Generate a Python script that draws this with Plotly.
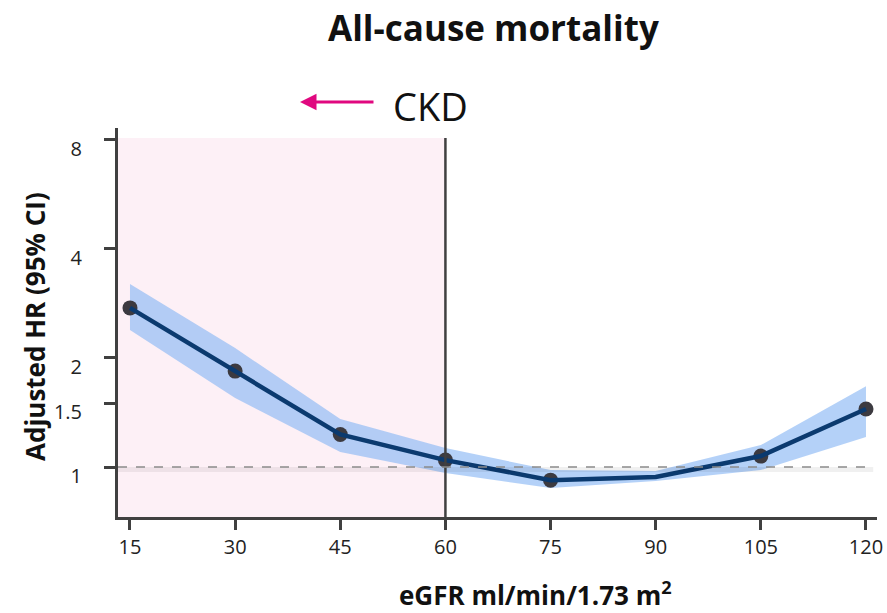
import plotly.graph_objects as go

egfr = [15, 30, 45, 60, 75, 90, 105, 120]
hr = [2.75, 1.84, 1.23, 1.045, 0.92, 0.938, 1.072, 1.446]
ci_upper = [3.20, 2.13, 1.357, 1.128, 0.981, 0.975, 1.15, 1.67]
ci_lower = [2.39, 1.55, 1.10, 0.963, 0.875, 0.915, 0.981, 1.21]
marker_x = [15, 30, 45, 60, 75, 105, 120]
marker_y = [2.75, 1.84, 1.23, 1.045, 0.92, 1.072, 1.446]
xticks = [15, 30, 45, 60, 75, 90, 105, 120]
yticks = [1, 1.5, 2, 4, 8]
ytick_labels = ["1", "1.5", "2", "4", "8"]

FONT = "Open Sans"
PLOT_TOP, PLOT_BOTTOM, PLOT_LEFT, PLOT_RIGHT = 128, 517, 118, 877
PH = PLOT_BOTTOM - PLOT_TOP
PW = PLOT_RIGHT - PLOT_LEFT

fig = go.Figure()

# CKD shaded region
fig.add_shape(type="rect", xref="x", yref="y", x0=13.29, x1=60, y0=0.7, y1=8.1,
              fillcolor="#fdf0f6", line_width=0, layer="below")
fig.add_shape(type="line", xref="x", yref="y", x0=60, x1=60, y0=0.7, y1=8.1,
              line=dict(color="#404040", width=2.5))
# reference line at HR = 1 (shadow + dashed)
fig.add_shape(type="line", xref="paper", yref="y", x0=0, x1=0.995, y0=0.985, y1=0.985,
              line=dict(color="rgba(0,0,0,0.06)", width=5))
fig.add_shape(type="line", xref="paper", yref="y", x0=0, x1=0.995, y0=1, y1=1,
              line=dict(color="#8a8a8a", width=1.3, dash="dash"))

# CI band
fig.add_trace(go.Scatter(x=egfr + egfr[::-1], y=ci_upper + ci_lower[::-1],
                         mode="lines", fill="toself", fillcolor="rgba(140,185,245,0.65)",
                         line=dict(width=0), hoverinfo="skip", showlegend=False))
# markers
fig.add_trace(go.Scatter(x=marker_x, y=marker_y, mode="markers",
                         marker=dict(color="#3c3a40", size=15), showlegend=False))
# line
fig.add_trace(go.Scatter(x=egfr, y=hr, mode="lines",
                         line=dict(color="#0b3a6f", width=4.5), showlegend=False))

fig.update_xaxes(range=[13.29, 121.57], tickvals=xticks, ticks="outside", ticklen=10,
                 tickwidth=3, tickcolor="#404040", showline=True, linecolor="#404040",
                 linewidth=3, showgrid=False, zeroline=False, automargin=False,
                 tickfont=dict(family=FONT, size=20, color="#222"))
fig.update_yaxes(type="log", range=[-0.138, 0.936], tickvals=yticks, ticktext=ytick_labels,
                 ticks="outside", ticklen=11, tickwidth=3, tickcolor="#404040",
                 showline=True, linecolor="#404040", linewidth=3, showgrid=False,
                 zeroline=False, ticklabelstandoff=18, ticklabelshift=9, automargin=False,
                 tickfont=dict(family=FONT, size=20, color="#222"))

# axis titles
fig.add_annotation(text="<b>eGFR ml/min/1.73 m<sup>2</sup></b>", xref="paper", yref="paper",
                   x=(535 - PLOT_LEFT) / PW, y=(PLOT_BOTTOM - 594) / PH, showarrow=False,
                   xanchor="center", yanchor="middle",
                   font=dict(family=FONT, size=26, color="#111"))
fig.add_annotation(text="<b>Adjusted HR (95% CI)</b>", xref="paper", yref="paper",
                   x=(35 - PLOT_LEFT) / PW, y=(PLOT_BOTTOM - 327) / PH, showarrow=False,
                   textangle=-90, xanchor="center", yanchor="middle",
                   font=dict(family=FONT, size=26, color="#111"))

fig.add_annotation(text="<b>All-cause mortality</b>", xref="paper", yref="paper",
                   x=(493 - PLOT_LEFT) / PW, y=(PLOT_BOTTOM - 28) / PH, showarrow=False,
                   xanchor="center", yanchor="middle",
                   font=dict(family=FONT, size=35, color="#111"))
fig.add_annotation(text="CKD", xref="paper", yref="paper", x=(430 - PLOT_LEFT) / PW,
                   y=(PLOT_BOTTOM - 106) / PH,
                   showarrow=False, xanchor="center", yanchor="middle",
                   font=dict(family=FONT, size=38, color="#111"))
fig.add_annotation(text="", xref="paper", yref="paper", x=(300 - PLOT_LEFT) / PW,
                   y=(PLOT_BOTTOM - 102) / PH,
                   ax=75, ay=0, showarrow=True, arrowhead=2, arrowsize=1.1,
                   arrowwidth=3, arrowcolor="#e0087f")

fig.update_layout(width=887, height=613,
                  margin=dict(l=PLOT_LEFT, r=887 - PLOT_RIGHT, t=PLOT_TOP, b=613 - PLOT_BOTTOM),
                  plot_bgcolor="white", paper_bgcolor="white")

fig.write_html("out.html")
